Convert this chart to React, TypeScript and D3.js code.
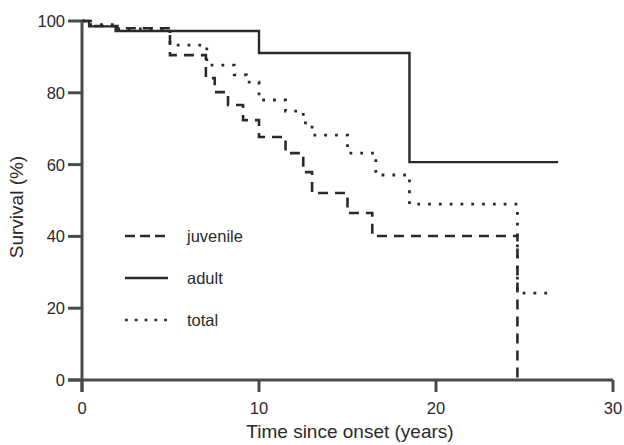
import React from 'react';
import * as d3 from 'd3';

// step points: survival drops to value at given time
const adultTime = [0, 0.4, 1.9, 10.0, 18.5, 26.9];
const adultSurv = [100, 98.5, 97.2, 91.1, 60.7, 60.7];

const juvenileTime = [0, 0.6, 2.0, 4.97, 7.0, 7.5, 8.25, 9.1, 10.0, 11.5, 12.5, 13.0, 15.0, 16.4, 24.6];
const juvenileSurv = [100, 98.6, 98.0, 90.5, 84.1, 80.2, 76.6, 72.4, 67.7, 63.2, 57.9, 52.1, 46.5, 40.1, 0];

const totalTime = [0, 0.4, 1.9, 4.97, 7.05, 8.6, 9.3, 10.0, 11.5, 12.5, 13.0, 15.0, 16.6, 18.5, 24.6, 26.4];
const totalSurv = [100, 99.0, 97.8, 93.3, 87.7, 85.0, 83.0, 78.0, 74.9, 71.6, 68.2, 63.2, 57.1, 49.0, 24.2, 24.2];

const xTicks = [0, 10, 20, 30];
const yTicks = [0, 20, 40, 60, 80, 100];

const legendNames = ['juvenile', 'adult', 'total'];

const App = () => {
  const width = 624;
  const height = 445;
  const x = d3.scaleLinear().domain([0, 30]).range([82, 613]);
  const y = d3.scaleLinear().domain([0, 100]).range([380, 21]);

  const line = d3
    .line<[number, number]>()
    .x((d) => x(d[0]))
    .y((d) => y(d[1]))
    .curve(d3.curveStepAfter);

  const zip = (t: number[], v: number[]) => t.map((tt, i) => [tt, v[i]] as [number, number]);

  const ink = '#2a2a2a';
  const font = '"Liberation Sans", Arial, Helvetica, sans-serif';

  return (
    <svg width={width} height={height} style={{ position: 'absolute', left: 0, top: 0, background: '#fff' }}>
      {/* curves */}
      <path d={line(zip(juvenileTime, juvenileSurv)) || ''} fill="none" stroke={ink} strokeWidth={2.6} strokeDasharray="10,7" />
      <path d={line(zip(adultTime, adultSurv)) || ''} fill="none" stroke={ink} strokeWidth={2.4} />
      <path d={line(zip(totalTime, totalSurv)) || ''} fill="none" stroke={ink} strokeWidth={2.8} strokeDasharray="2.8,8" />

      {/* axes */}
      <g stroke="#4a4a4a" strokeWidth={3} fill="none">
        <line x1={x(0)} x2={x(0)} y1={y(100)} y2={y(0) + 12} />
        <line x1={x(0) - 14} x2={x(30)} y1={y(0)} y2={y(0)} />
        {xTicks.map((t) => (
          <line key={'xt' + t} x1={x(t)} x2={x(t)} y1={y(0)} y2={y(0) + 12} />
        ))}
        {yTicks.map((t) => (
          <line key={'yt' + t} x1={x(0) - 14} x2={x(0)} y1={y(t)} y2={y(t)} />
        ))}
      </g>

      <g fill={ink} fontFamily={font} fontSize={16.5}>
        {xTicks.map((t) => (
          <text key={'xl' + t} x={x(t)} y={414} textAnchor="middle">
            {t}
          </text>
        ))}
        {yTicks.map((t) => (
          <text key={'yl' + t} x={65} y={y(t) + 6} textAnchor="end">
            {t}
          </text>
        ))}
      </g>

      <text x={350} y={438} textAnchor="middle" fontFamily={font} fontSize={19} fill={ink}>
        Time since onset (years)
      </text>
      <text
        transform={`translate(23, 207) rotate(-90)`}
        textAnchor="middle"
        fontFamily={font}
        fontSize={19}
        fill={ink}
      >
        Survival (%)
      </text>

      {/* legend */}
      {legendNames.map((name, i) => {
        const ly = 236 + i * 42;
        return (
          <g key={name}>
            <line
              x1={125}
              x2={168}
              y1={ly}
              y2={ly}
              stroke={ink}
              strokeWidth={2.6}
              strokeDasharray={i === 0 ? '10,5' : i === 2 ? '2.8,7' : 'none'}
            />
            <text x={187} y={ly + 6} fontFamily={font} fontSize={16.5} fill={ink}>
              {name}
            </text>
          </g>
        );
      })}
    </svg>
  );
};

export default App;
